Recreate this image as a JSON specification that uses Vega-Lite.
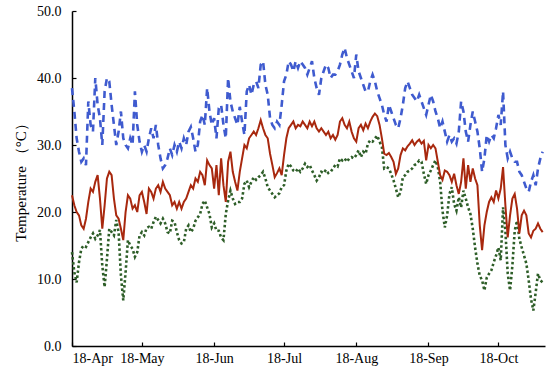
{
"$schema": "https://vega.github.io/schema/vega-lite/v6.json",
"width": 473, "height": 335,
"autosize": {"type": "none"},
"padding": {"left": 72, "top": 11, "right": 5, "bottom": 25},
"background": "white",
"config": {"view": {"stroke": null}, "axis": {"labelFont": "Liberation Serif", "titleFont": "Liberation Serif", "labelColor": "black", "titleColor": "black", "domainColor": "black", "tickColor": "black", "grid": false, "labelFontSize": 14, "titleFontWeight": "normal", "domainWidth": 1.5, "tickWidth": 1.2}},
"data": {"values": [
{"date":"2018-04-01","max":38.5,"mean":22.5,"min":14},
{"date":"2018-04-02","max":35,"mean":21,"min":11},
{"date":"2018-04-03","max":31,"mean":20,"min":9.5},
{"date":"2018-04-04","max":29,"mean":19.5,"min":12.5},
{"date":"2018-04-05","max":27.5,"mean":18,"min":14.5},
{"date":"2018-04-06","max":28,"mean":17.5,"min":15},
{"date":"2018-04-07","max":27,"mean":19,"min":14.8},
{"date":"2018-04-08","max":36.5,"mean":21.5,"min":15.5},
{"date":"2018-04-09","max":33,"mean":23.5,"min":16.2},
{"date":"2018-04-10","max":32,"mean":23,"min":16.8},
{"date":"2018-04-11","max":40,"mean":24.5,"min":16},
{"date":"2018-04-12","max":36,"mean":25.5,"min":16.5},
{"date":"2018-04-13","max":34,"mean":22,"min":17.3},
{"date":"2018-04-14","max":30,"mean":17.5,"min":12},
{"date":"2018-04-15","max":38,"mean":21,"min":8.8},
{"date":"2018-04-16","max":40,"mean":25,"min":13},
{"date":"2018-04-17","max":39.5,"mean":26,"min":17.5},
{"date":"2018-04-18","max":36,"mean":25.5,"min":17},
{"date":"2018-04-19","max":33,"mean":22,"min":16.5},
{"date":"2018-04-20","max":30,"mean":19.5,"min":18.8},
{"date":"2018-04-21","max":32,"mean":19,"min":17},
{"date":"2018-04-22","max":35,"mean":17.5,"min":10.5},
{"date":"2018-04-23","max":31,"mean":15.8,"min":6.8},
{"date":"2018-04-24","max":30,"mean":20,"min":11},
{"date":"2018-04-25","max":29.5,"mean":22.5,"min":15.8},
{"date":"2018-04-26","max":31,"mean":22,"min":15},
{"date":"2018-04-27","max":30,"mean":20.5,"min":14.5},
{"date":"2018-04-28","max":38,"mean":21,"min":13.3},
{"date":"2018-04-29","max":33,"mean":20,"min":14},
{"date":"2018-04-30","max":30.5,"mean":22.5,"min":16.5},
{"date":"2018-05-01","max":29,"mean":23,"min":17},
{"date":"2018-05-02","max":30,"mean":21.5,"min":16.5},
{"date":"2018-05-03","max":29,"mean":19.7,"min":17.6},
{"date":"2018-05-04","max":31,"mean":23.5,"min":17.8},
{"date":"2018-05-05","max":32.5,"mean":23,"min":17.5},
{"date":"2018-05-06","max":31,"mean":22,"min":18.5},
{"date":"2018-05-07","max":33,"mean":23.5,"min":19.3},
{"date":"2018-05-08","max":30,"mean":24,"min":18.8},
{"date":"2018-05-09","max":28,"mean":23,"min":18.3},
{"date":"2018-05-10","max":26.5,"mean":24.5,"min":19},
{"date":"2018-05-11","max":27,"mean":23.5,"min":18.3},
{"date":"2018-05-12","max":28,"mean":23,"min":17},
{"date":"2018-05-13","max":29.5,"mean":22.5,"min":16.8},
{"date":"2018-05-14","max":28.5,"mean":21,"min":18.7},
{"date":"2018-05-15","max":30,"mean":21.5,"min":18.5},
{"date":"2018-05-16","max":29,"mean":20.5,"min":17},
{"date":"2018-05-17","max":30.5,"mean":21.5,"min":15.8},
{"date":"2018-05-18","max":29.5,"mean":20.5,"min":15.3},
{"date":"2018-05-19","max":31,"mean":21.5,"min":15.5},
{"date":"2018-05-20","max":30,"mean":22,"min":17.5},
{"date":"2018-05-21","max":32,"mean":23,"min":18},
{"date":"2018-05-22","max":32.7,"mean":24,"min":17},
{"date":"2018-05-23","max":31,"mean":23.5,"min":17.5},
{"date":"2018-05-24","max":29,"mean":25,"min":18.7},
{"date":"2018-05-25","max":30,"mean":24.5,"min":19.2},
{"date":"2018-05-26","max":33.5,"mean":26,"min":19.7},
{"date":"2018-05-27","max":34.5,"mean":25.5,"min":21.2},
{"date":"2018-05-28","max":33,"mean":24,"min":21.7},
{"date":"2018-05-29","max":38.5,"mean":27.7,"min":20.7},
{"date":"2018-05-30","max":35,"mean":27,"min":19.7},
{"date":"2018-05-31","max":33,"mean":26.5,"min":17.7},
{"date":"2018-06-01","max":34,"mean":23.5,"min":18.3},
{"date":"2018-06-02","max":31,"mean":27,"min":17.2},
{"date":"2018-06-03","max":35.5,"mean":22.5,"min":17.2},
{"date":"2018-06-04","max":36,"mean":28,"min":16.2},
{"date":"2018-06-05","max":33,"mean":24,"min":15.8},
{"date":"2018-06-06","max":31,"mean":21.5,"min":19.7},
{"date":"2018-06-07","max":40,"mean":27.5,"min":21.7},
{"date":"2018-06-08","max":36.5,"mean":29,"min":23.2},
{"date":"2018-06-09","max":35,"mean":26,"min":22},
{"date":"2018-06-10","max":34,"mean":24.5,"min":21.2},
{"date":"2018-06-11","max":33,"mean":23.2,"min":21.5},
{"date":"2018-06-12","max":35.7,"mean":26,"min":21.5},
{"date":"2018-06-13","max":33.5,"mean":28,"min":22},
{"date":"2018-06-14","max":31.5,"mean":30,"min":24.2},
{"date":"2018-06-15","max":38,"mean":29.5,"min":24.7},
{"date":"2018-06-16","max":39,"mean":31,"min":23.7},
{"date":"2018-06-17","max":37.5,"mean":31.5,"min":24.5},
{"date":"2018-06-18","max":39,"mean":32,"min":25.2},
{"date":"2018-06-19","max":39.5,"mean":31.5,"min":24.8},
{"date":"2018-06-20","max":38.5,"mean":32.5,"min":25.2},
{"date":"2018-06-21","max":42,"mean":33.7,"min":25.5},
{"date":"2018-06-22","max":42.5,"mean":32.5,"min":26},
{"date":"2018-06-23","max":39,"mean":31.5,"min":25},
{"date":"2018-06-24","max":37.5,"mean":31,"min":23.7},
{"date":"2018-06-25","max":34,"mean":28.7,"min":23.2},
{"date":"2018-06-26","max":33,"mean":27,"min":22.7},
{"date":"2018-06-27","max":32.5,"mean":25.2,"min":22.2},
{"date":"2018-06-28","max":33.5,"mean":25.8,"min":22.5},
{"date":"2018-06-29","max":33,"mean":26.5,"min":22.8},
{"date":"2018-06-30","max":36,"mean":25.5,"min":23.7},
{"date":"2018-07-01","max":39.5,"mean":28.5,"min":24},
{"date":"2018-07-02","max":40.5,"mean":31,"min":26.2},
{"date":"2018-07-03","max":42.5,"mean":32.5,"min":27.2},
{"date":"2018-07-04","max":42,"mean":33,"min":26.8},
{"date":"2018-07-05","max":41,"mean":33.5,"min":26.2},
{"date":"2018-07-06","max":42.5,"mean":32.5,"min":26},
{"date":"2018-07-07","max":41.5,"mean":33,"min":26.5},
{"date":"2018-07-08","max":42.5,"mean":32.8,"min":26},
{"date":"2018-07-09","max":42,"mean":33.5,"min":26.5},
{"date":"2018-07-10","max":41.5,"mean":33,"min":27.2},
{"date":"2018-07-11","max":40.5,"mean":32.5,"min":26.7},
{"date":"2018-07-12","max":41.5,"mean":33.5,"min":27},
{"date":"2018-07-13","max":42.5,"mean":32.8,"min":26.2},
{"date":"2018-07-14","max":40,"mean":33.5,"min":25.5},
{"date":"2018-07-15","max":38.5,"mean":32.5,"min":24.7},
{"date":"2018-07-16","max":37.5,"mean":32,"min":25.2},
{"date":"2018-07-17","max":40,"mean":32.5,"min":26},
{"date":"2018-07-18","max":41,"mean":32,"min":25.8},
{"date":"2018-07-19","max":42,"mean":31.5,"min":26.3},
{"date":"2018-07-20","max":41.5,"mean":32,"min":25.8},
{"date":"2018-07-21","max":40,"mean":31,"min":26},
{"date":"2018-07-22","max":40.5,"mean":31.5,"min":26.5},
{"date":"2018-07-23","max":40.5,"mean":30.8,"min":27},
{"date":"2018-07-24","max":41,"mean":31.5,"min":26.8},
{"date":"2018-07-25","max":42,"mean":33.5,"min":28},
{"date":"2018-07-26","max":43.5,"mean":34,"min":27.7},
{"date":"2018-07-27","max":44.5,"mean":33,"min":28},
{"date":"2018-07-28","max":43,"mean":32.5,"min":27.5},
{"date":"2018-07-29","max":42,"mean":33.5,"min":28},
{"date":"2018-07-30","max":41,"mean":32,"min":28.2},
{"date":"2018-07-31","max":40,"mean":31,"min":28},
{"date":"2018-08-01","max":43.5,"mean":30.5,"min":28.5},
{"date":"2018-08-02","max":41,"mean":32.5,"min":29.2},
{"date":"2018-08-03","max":40,"mean":33,"min":28.2},
{"date":"2018-08-04","max":39,"mean":32.2,"min":29},
{"date":"2018-08-05","max":38,"mean":33.2,"min":28.7},
{"date":"2018-08-06","max":38,"mean":32.5,"min":30.2},
{"date":"2018-08-07","max":39.5,"mean":33.5,"min":30.7},
{"date":"2018-08-08","max":40.5,"mean":34.2,"min":30.5},
{"date":"2018-08-09","max":39.5,"mean":34.7,"min":31},
{"date":"2018-08-10","max":38,"mean":34.3,"min":31.4},
{"date":"2018-08-11","max":37,"mean":33,"min":30.5},
{"date":"2018-08-12","max":36,"mean":31,"min":29.7},
{"date":"2018-08-13","max":34.5,"mean":28.7,"min":26.5},
{"date":"2018-08-14","max":33.5,"mean":28.5,"min":26.7},
{"date":"2018-08-15","max":36,"mean":28.8,"min":26.5},
{"date":"2018-08-16","max":35,"mean":28.2,"min":25.7},
{"date":"2018-08-17","max":34,"mean":27.5,"min":24.7},
{"date":"2018-08-18","max":33,"mean":25.7,"min":23.5},
{"date":"2018-08-19","max":32.5,"mean":26.5,"min":22.2},
{"date":"2018-08-20","max":34,"mean":28.5,"min":23},
{"date":"2018-08-21","max":36,"mean":29.5,"min":25.2},
{"date":"2018-08-22","max":38.5,"mean":29.2,"min":25.5},
{"date":"2018-08-23","max":39.5,"mean":29.8,"min":26},
{"date":"2018-08-24","max":38.5,"mean":30.2,"min":26.2},
{"date":"2018-08-25","max":37.5,"mean":30.7,"min":26.5},
{"date":"2018-08-26","max":37,"mean":30,"min":27},
{"date":"2018-08-27","max":36.5,"mean":30.5,"min":27.2},
{"date":"2018-08-28","max":37.5,"mean":30.8,"min":27.7},
{"date":"2018-08-29","max":36.5,"mean":30.2,"min":27.5},
{"date":"2018-08-30","max":35.5,"mean":30.6,"min":25.7},
{"date":"2018-08-31","max":34.5,"mean":27.7,"min":24.2},
{"date":"2018-09-01","max":36,"mean":30,"min":25.5},
{"date":"2018-09-02","max":37.5,"mean":29.5,"min":26.2},
{"date":"2018-09-03","max":36.5,"mean":30,"min":27},
{"date":"2018-09-04","max":35,"mean":29.5,"min":27.7},
{"date":"2018-09-05","max":34,"mean":27.5,"min":26.7},
{"date":"2018-09-06","max":32.5,"mean":25.5,"min":24.5},
{"date":"2018-09-07","max":33.5,"mean":24.8,"min":20.2},
{"date":"2018-09-08","max":32,"mean":26.2,"min":17.7},
{"date":"2018-09-09","max":30.5,"mean":26,"min":19.5},
{"date":"2018-09-10","max":31.5,"mean":25.5,"min":22.7},
{"date":"2018-09-11","max":30.5,"mean":24.5,"min":23.7},
{"date":"2018-09-12","max":31,"mean":25.7,"min":21.2},
{"date":"2018-09-13","max":30.2,"mean":24,"min":20.2},
{"date":"2018-09-14","max":32,"mean":22.7,"min":22.2},
{"date":"2018-09-15","max":36.5,"mean":24.5,"min":20.7},
{"date":"2018-09-16","max":35,"mean":28,"min":23.2},
{"date":"2018-09-17","max":32,"mean":23.5,"min":22},
{"date":"2018-09-18","max":30.5,"mean":27,"min":20.7},
{"date":"2018-09-19","max":33,"mean":24.5,"min":19.7},
{"date":"2018-09-20","max":35,"mean":26.5,"min":17.5},
{"date":"2018-09-21","max":33.5,"mean":25,"min":14.7},
{"date":"2018-09-22","max":32,"mean":24,"min":12.3},
{"date":"2018-09-23","max":29.5,"mean":18,"min":10.5},
{"date":"2018-09-24","max":26,"mean":14.3,"min":9.8},
{"date":"2018-09-25","max":28,"mean":18,"min":8.3},
{"date":"2018-09-26","max":31.5,"mean":20,"min":10.2},
{"date":"2018-09-27","max":30.5,"mean":21.5,"min":10.8},
{"date":"2018-09-28","max":31.5,"mean":22.2,"min":11.3},
{"date":"2018-09-29","max":31,"mean":21.5,"min":12.5},
{"date":"2018-09-30","max":32.5,"mean":23.2,"min":13.5},
{"date":"2018-10-01","max":34.5,"mean":22,"min":14.7},
{"date":"2018-10-02","max":33,"mean":23.5,"min":12.8},
{"date":"2018-10-03","max":38,"mean":26.7,"min":20.7},
{"date":"2018-10-04","max":30,"mean":21,"min":17.2},
{"date":"2018-10-05","max":28,"mean":16.2,"min":10.8},
{"date":"2018-10-06","max":29,"mean":19.5,"min":8.3},
{"date":"2018-10-07","max":28,"mean":22,"min":12},
{"date":"2018-10-08","max":27.5,"mean":22.7,"min":17.2},
{"date":"2018-10-09","max":27.5,"mean":20.5,"min":18.7},
{"date":"2018-10-10","max":26,"mean":16.8,"min":16},
{"date":"2018-10-11","max":25.5,"mean":19.5,"min":14.7},
{"date":"2018-10-12","max":24.5,"mean":20.2,"min":13.5},
{"date":"2018-10-13","max":23.5,"mean":19.5,"min":12.3},
{"date":"2018-10-14","max":23,"mean":16.8,"min":9.8},
{"date":"2018-10-15","max":24.5,"mean":16.2,"min":7},
{"date":"2018-10-16","max":25.5,"mean":17.2,"min":5.3},
{"date":"2018-10-17","max":24,"mean":17.5,"min":8},
{"date":"2018-10-18","max":26.5,"mean":18.3,"min":10.8},
{"date":"2018-10-19","max":28,"mean":17.5,"min":9.8},
{"date":"2018-10-20","max":29,"mean":17,"min":9.5}
]},
"encoding": {
  "x": {"field": "date", "type": "temporal",
    "scale": {"type": "utc", "domain": [{"year": 2018, "month": 4, "date": 1, "utc": true}, {"year": 2018, "month": 10, "date": 21, "utc": true}]},
    "axis": {"title": null, "labelExpr": "utcFormat(datum.value, '%y-%b')", "tickSize": -4, "labelPadding": 9, "labelAngle": 0,
      "values": [{"year": 2018, "month": 4, "date": 1, "utc": true}, {"year": 2018, "month": 5, "date": 1, "utc": true}, {"year": 2018, "month": 6, "date": 1, "utc": true}, {"year": 2018, "month": 7, "date": 1, "utc": true}, {"year": 2018, "month": 8, "date": 1, "utc": true}, {"year": 2018, "month": 9, "date": 1, "utc": true}, {"year": 2018, "month": 10, "date": 1, "utc": true}]}}
},
"layer": [
  {"mark": {"type": "line", "color": "#3F5BCF", "strokeWidth": 2.6, "strokeDash": [7, 5]},
   "encoding": {"y": {"field": "max", "type": "quantitative",
     "scale": {"domain": [0, 50], "nice": false},
     "axis": {"title": "Temperature （°C）", "titleFontSize": 15, "values": [0, 5, 10, 15, 20, 25, 30, 35, 40, 45, 50], "format": ".1f", "tickSize": -4, "labelPadding": 15, "titlePadding": 8}}}},
  {"mark": {"type": "line", "color": "#2E5E28", "strokeWidth": 2.6, "strokeDash": [2.5, 2.5]},
   "encoding": {"y": {"field": "min", "type": "quantitative"}}},
  {"mark": {"type": "line", "color": "#A8280E", "strokeWidth": 2}, 
   "encoding": {"y": {"field": "mean", "type": "quantitative"}}}
]
}
